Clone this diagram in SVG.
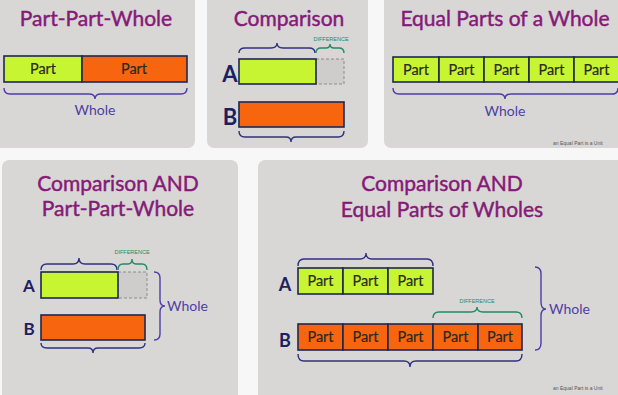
<svg xmlns="http://www.w3.org/2000/svg" width="618" height="395" viewBox="0 0 618 395">
<style>
.panel{fill:#d9d7d5}
.title{font-family:Lato,"Open Sans",sans-serif;font-weight:normal;fill:#851a78;stroke:#851a78;stroke-width:0.45;text-anchor:middle}
.green{fill:#c8f531;stroke:#1e2750;stroke-width:1.6}
.orange{fill:#f8650f;stroke:#1e2750;stroke-width:1.6}
.ghost{fill:#cfcdcb;stroke:#8a8a90;stroke-width:1;stroke-dasharray:3 2}
.part{font-family:Lato,"Open Sans",sans-serif;font-size:14.5px;fill:#2a2a22;stroke:#2a2a22;stroke-width:0.2;text-anchor:middle}
.ab{font-family:Lato,"Open Sans",sans-serif;font-weight:bold;fill:#1c2060;text-anchor:middle}
.whole{font-family:Lato,"Open Sans",sans-serif;font-size:14px;fill:#4b3fa6}
.brace{fill:none;stroke:#2e3180;stroke-width:1.4}
.wbrace{fill:none;stroke:#4b3fa6;stroke-width:1.4}
.dbrace{fill:none;stroke:#1f8a6a;stroke-width:1.4}
.diff{font-family:"Liberation Sans",Arial,sans-serif;font-size:5.5px;fill:#1f8a6a;text-anchor:middle}
.foot{font-family:"Liberation Sans",Arial,sans-serif;font-size:5px;fill:#555}
</style>
<rect width="618" height="395" fill="#f7f7f7"/>

<g id="panel-part-part-whole">
<rect class="panel" x="-10" y="-10" width="205" height="158" rx="7"/>
<text class="title" x="96" y="26" font-size="21">Part-Part-Whole</text>
<rect class="green" x="4" y="56" width="78" height="26"/>
<rect class="orange" x="82" y="56" width="105" height="26"/>
<text class="part" x="43" y="74">Part</text>
<text class="part" x="134" y="74">Part</text>
<path class="wbrace" d="M4,88 Q4,94 10,94 L89,94 Q95,94 95,99 Q95,94 101,94 L181,94 Q187,94 187,88"/>
<text class="whole" x="95" y="115" text-anchor="middle">Whole</text>
</g>

<g id="panel-comparison">
<rect class="panel" x="207" y="-10" width="161" height="158" rx="7"/>
<text class="title" x="289" y="26" font-size="21">Comparison</text>
<text class="diff" x="331" y="41">DIFFERENCE</text>
<path class="brace" d="M239,53 Q239,48 245,48 L271,48 Q277,48 277,43 Q277,48 283,48 L309,48 Q315,48 315,53"/>
<path class="dbrace" d="M316,53 Q316,48 321,48 L326,48 Q330,48 330,44 Q330,48 334,48 L339,48 Q344,48 344,53"/>
<rect class="ghost" x="316" y="59" width="28" height="25"/>
<rect class="green" x="239" y="59" width="77" height="25"/>
<text class="ab" x="230" y="82" font-size="22">A</text>
<rect class="orange" x="239" y="102" width="105" height="25"/>
<text class="ab" x="230" y="125" font-size="22">B</text>
<path class="brace" d="M239,131 Q239,137 245,137 L286,137 Q291,137 291,142 Q291,137 296,137 L338,137 Q344,137 344,131"/>
</g>

<g id="panel-equal-parts">
<rect class="panel" x="384" y="-10" width="246" height="158" rx="7"/>
<text class="title" x="505" y="26" font-size="21">Equal Parts of a Whole</text>
<rect class="green" x="393" y="57" width="46" height="25"/>
<rect class="green" x="439" y="57" width="45" height="25"/>
<rect class="green" x="484" y="57" width="45" height="25"/>
<rect class="green" x="529" y="57" width="45" height="25"/>
<rect class="green" x="574" y="57" width="45" height="25"/>
<text class="part" x="416" y="75">Part</text>
<text class="part" x="461.5" y="75">Part</text>
<text class="part" x="506.5" y="75">Part</text>
<text class="part" x="551.5" y="75">Part</text>
<text class="part" x="596.5" y="75">Part</text>
<path class="wbrace" d="M393,88 Q393,94 399,94 L499,94 Q505,94 505,99 Q505,94 511,94 L612,94 Q618,94 618,88"/>
<text class="whole" x="505" y="116" text-anchor="middle">Whole</text>
<text class="foot" x="553" y="145">an Equal Part is a Unit</text>
</g>

<g id="panel-comparison-ppw">
<rect class="panel" x="2" y="160" width="236" height="250" rx="7"/>
<text class="title" x="118" y="191" font-size="21">Comparison AND</text>
<text class="title" x="118" y="216" font-size="21">Part-Part-Whole</text>
<text class="diff" x="132" y="254">DIFFERENCE</text>
<path class="brace" d="M41,270 Q41,264 47,264 L73,264 Q79,264 79,258 Q79,264 85,264 L111,264 Q117,264 117,270"/>
<path class="dbrace" d="M118,270 Q118,264 123,264 L128,264 Q132,264 132,259 Q132,264 136,264 L142,264 Q147,264 147,270"/>
<rect class="ghost" x="118" y="272" width="29" height="26"/>
<rect class="green" x="41" y="272" width="77" height="26"/>
<text class="ab" x="29" y="292" font-size="17">A</text>
<rect class="orange" x="41" y="315" width="104" height="25"/>
<text class="ab" x="29" y="335" font-size="17">B</text>
<path class="brace" d="M41,343 Q41,348 47,348 L88,348 Q93,348 93,353 Q93,348 98,348 L139,348 Q145,348 145,343"/>
<path class="wbrace" d="M154,272 Q160,272 160,278 L160,300 Q160,306 165,306 Q160,306 160,312 L160,334 Q160,340 154,340"/>
<text class="whole" x="167" y="311">Whole</text>
</g>

<g id="panel-comparison-equal">
<rect class="panel" x="258" y="160" width="372" height="250" rx="7"/>
<text class="title" x="442" y="191" font-size="21">Comparison AND</text>
<text class="title" x="442" y="217" font-size="21">Equal Parts of Wholes</text>
<path class="brace" d="M298,266 Q298,259 304,259 L360,259 Q366,259 366,253 Q366,259 372,259 L427,259 Q433,259 433,266"/>
<rect class="green" x="298" y="268" width="45" height="26"/>
<rect class="green" x="343" y="268" width="45" height="26"/>
<rect class="green" x="388" y="268" width="45" height="26"/>
<text class="part" x="320.5" y="286">Part</text>
<text class="part" x="365.5" y="286">Part</text>
<text class="part" x="410.5" y="286">Part</text>
<text class="ab" x="285" y="291" font-size="18">A</text>
<text class="diff" x="477" y="303">DIFFERENCE</text>
<path class="dbrace" d="M433,318 Q433,312 439,312 L471,312 Q477,312 477,307 Q477,312 483,312 L516,312 Q522,312 522,318"/>
<rect class="orange" x="298" y="324" width="45" height="26"/>
<rect class="orange" x="343" y="324" width="45" height="26"/>
<rect class="orange" x="388" y="324" width="45" height="26"/>
<rect class="orange" x="433" y="324" width="45" height="26"/>
<rect class="orange" x="478" y="324" width="44" height="26"/>
<text class="part" x="320.5" y="342">Part</text>
<text class="part" x="365.5" y="342">Part</text>
<text class="part" x="410.5" y="342">Part</text>
<text class="part" x="455.5" y="342">Part</text>
<text class="part" x="500" y="342">Part</text>
<text class="ab" x="285" y="347" font-size="18">B</text>
<path class="brace" d="M298,354 Q298,361 304,361 L404,361 Q410,361 410,367 Q410,361 416,361 L516,361 Q522,361 522,354"/>
<path class="wbrace" d="M535,267 Q541,267 541,274 L541,302 Q541,309 546,309 Q541,309 541,316 L541,343 Q541,350 535,350"/>
<text class="whole" x="549" y="314">Whole</text>
<text class="foot" x="553" y="390">an Equal Part is a Unit</text>
</g>
</svg>
